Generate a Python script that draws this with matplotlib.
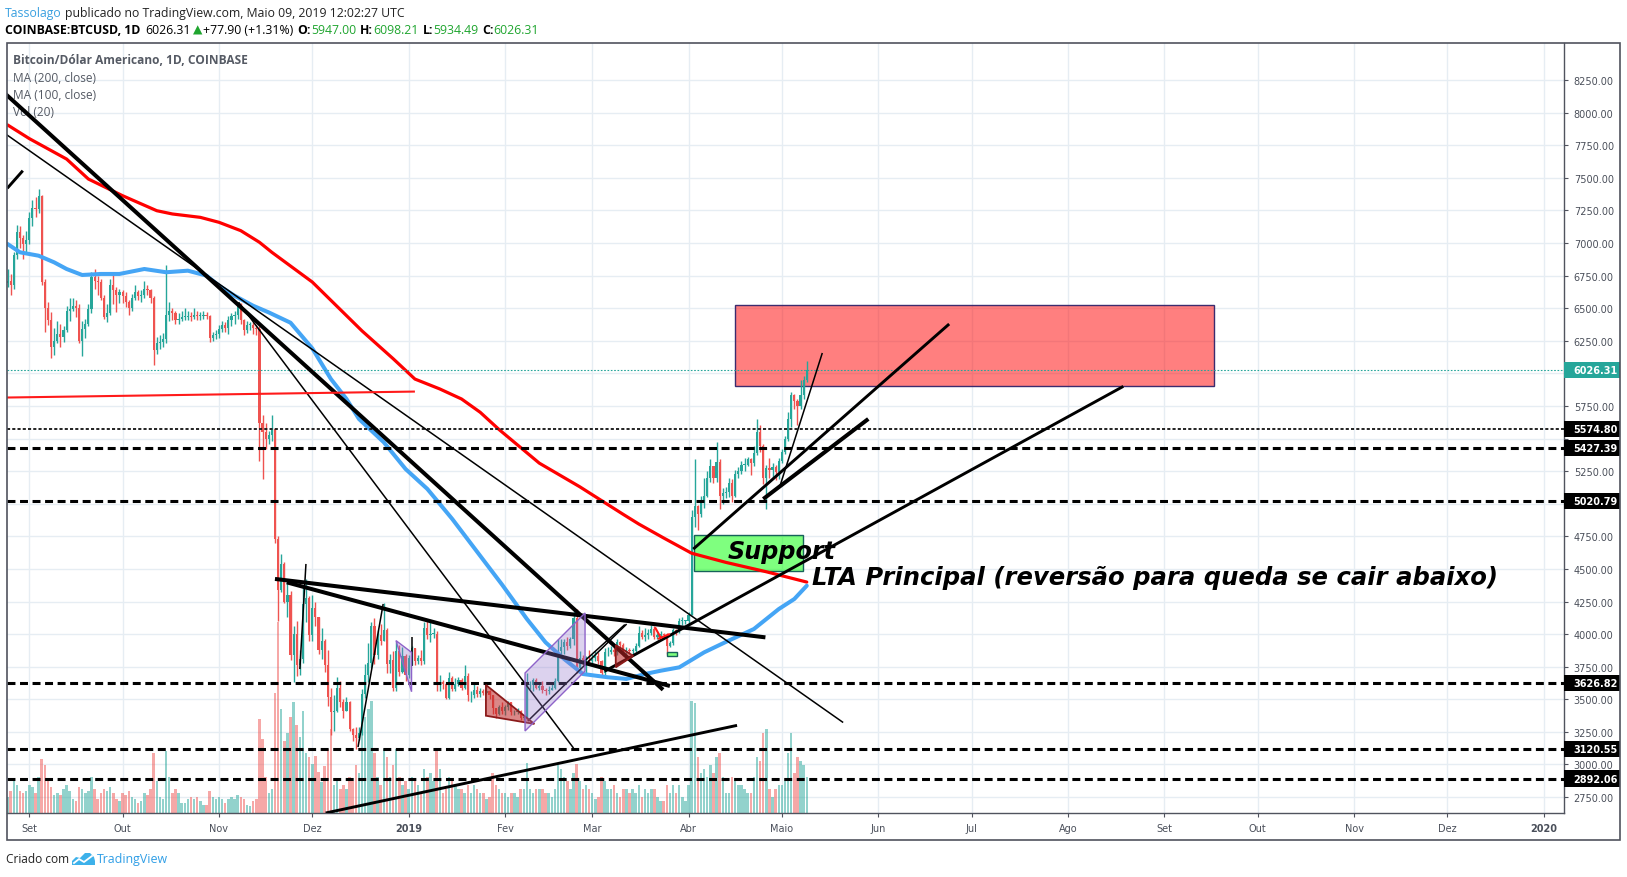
import numpy as np
import pandas as pd
import matplotlib
matplotlib.use("Agg")
import matplotlib.pyplot as plt
import matplotlib.dates as mdates
import matplotlib.transforms as mtransforms
from matplotlib.patches import Rectangle, Polygon

W, H = 1627, 878
UP, DOWN = "#26a69a", "#ef5350"
AXC = "#50535e"

# ---- COINBASE:BTCUSD daily candles, 25 Aug 2018 .. 9 May 2019 ----
first_open = 6690
closes = [
    6710, 6680, 6910, 7080, 7040, 6990, 7020,
    7190, 7270, 7260, 7360, 6700, 6500, 6410, 6200, 6250, 6300, 6280, 6330, 6480, 6490, 6520,
    6500, 6250, 6340, 6380, 6490, 6740, 6710, 6700, 6580, 6430, 6460, 6680, 6640, 6600, 6620,
    6590, 6550, 6500, 6580, 6620, 6590, 6600, 6650, 6640, 6580, 6180, 6230, 6240, 6260, 6450,
    6480, 6460, 6410, 6420, 6430, 6430, 6440, 6430, 6450, 6440, 6440, 6450, 6440, 6270, 6290, 6300,
    6340, 6370, 6350, 6410, 6440, 6450, 6520, 6410, 6330, 6370, 6370, 6350, 6340, 5620, 5550,
    5500, 5530, 5570, 4730, 4340, 4540, 4250, 4300, 3840, 4000, 3760, 3810, 4230, 4280, 3990,
    4200, 4130, 3880, 3950, 3760, 3520, 3400, 3410, 3590, 3480, 3410, 3480, 3270, 3230, 3200,
    3240, 3540, 3690, 3780, 4060, 3840, 3990, 3950, 4030, 3770, 3800, 3590, 3870, 3710, 3830, 3690,
    3820, 3890, 3790, 3820, 3790, 4050, 3990, 4000, 4000, 3620, 3630, 3620, 3510, 3660, 3580,
    3620, 3650, 3590, 3680, 3530, 3530, 3570, 3540, 3560, 3550, 3560, 3530, 3430, 3390, 3440, 3410,
    3440, 3480, 3400, 3400, 3410, 3360, 3360, 3610, 3610, 3650, 3590, 3600, 3570, 3560,
    3570, 3590, 3640, 3870, 3900, 3940, 3910, 3960, 4120, 3740, 3820, 3800, 3800, 3790,
    3820, 3830, 3790, 3700, 3860, 3860, 3880, 3860, 3940, 3920, 3870, 3880, 3870, 3870, 3910,
    4010, 3980, 3990, 4010, 4040, 3980, 3990, 4000, 3990, 3910, 3930, 4030, 4020, 4100, 4100, 4100,
    4150, 4900, 4980, 4920, 5030, 5060, 5200, 5290, 5200, 5320, 5060, 5080, 5090, 5160, 5060,
    5230, 5250, 5300, 5300, 5340, 5310, 5390, 5550, 5440, 5200, 5270, 5260, 5280, 5240, 5330,
    5400, 5500, 5650, 5830, 5790, 5750, 5830, 5947, 6026.31,
]
highs = [
    6800, 6760, 6930, 7140, 7130, 7060, 7090,
    7240, 7330, 7350, 7410, 7370, 6720, 6550, 6470, 6350, 6400, 6380, 6360, 6520, 6580, 6580,
    6560, 6530, 6400, 6420, 6530, 6780, 6800, 6750, 6720, 6600, 6530, 6720, 6780, 6660, 6650,
    6640, 6620, 6560, 6610, 6680, 6640, 6640, 6710, 6680, 6650, 6590, 6280, 6290, 6310, 6830,
    6550, 6500, 6480, 6460, 6480, 6500, 6480, 6470, 6500, 6480, 6470, 6480, 6470, 6450, 6320, 6330,
    6370, 6400, 6390, 6440, 6460, 6480, 6550, 6540, 6420, 6400, 6390, 6390, 6370, 6360, 5680,
    5620, 5560, 5680, 5570, 4750, 4614, 4550, 4400, 4330, 4060, 4100, 3880, 4360, 4420, 4290,
    4300, 4250, 4130, 4050, 3960, 3880, 3590, 3530, 3670, 3640, 3500, 3520, 3490, 3280, 3290,
    3290, 3580, 3770, 3930, 4090, 4120, 4030, 4080, 4240, 4050, 3850, 3870, 3940, 3920, 3900, 3850,
    3840, 3910, 3890, 3840, 3880, 4090, 4100, 4110, 4050, 4020, 3690, 3650, 3630, 3710, 3680,
    3660, 3670, 3660, 3760, 3700, 3560, 3620, 3600, 3590, 3580, 3600, 3570, 3530, 3430, 3460, 3480,
    3460, 3490, 3480, 3420, 3430, 3420, 3380, 3700, 3640, 3660, 3660, 3620, 3640, 3590,
    3600, 3620, 3660, 3960, 3960, 3960, 3980, 3980, 4180, 4190, 3870, 3840, 3830, 3880,
    3850, 3870, 3860, 3800, 3890, 3900, 3910, 3920, 3960, 3950, 3930, 3900, 3890, 3890, 3930,
    4060, 4030, 4050, 4040, 4070, 4060, 4010, 4020, 4010, 4010, 3950, 4050, 4040, 4120, 4130, 4110,
    4170, 4950, 5340, 4990, 5060, 5200, 5250, 5340, 5290, 5470, 5340, 5120, 5130, 5200, 5190,
    5260, 5280, 5330, 5350, 5360, 5350, 5440, 5650, 5600, 5460, 5300, 5350, 5310, 5300, 5350,
    5420, 5520, 5700, 5860, 5840, 5800, 5950, 5980, 6098.21,
]
lows = [
    6660, 6600, 6650, 6880, 6960, 6880, 6920,
    6990, 7130, 7200, 7230, 6680, 6320, 6370, 6120, 6140, 6230, 6200, 6240, 6320, 6400, 6480,
    6430, 6230, 6130, 6270, 6360, 6460, 6650, 6600, 6560, 6420, 6390, 6450, 6530, 6470, 6540,
    6540, 6510, 6450, 6480, 6560, 6560, 6550, 6580, 6600, 6540, 6060, 6150, 6190, 6200, 6230,
    6400, 6410, 6380, 6380, 6400, 6410, 6410, 6400, 6420, 6410, 6410, 6420, 6420, 6240, 6250, 6260,
    6270, 6320, 6320, 6300, 6360, 6380, 6420, 6380, 6290, 6310, 6330, 6300, 6290, 5330, 5190,
    5420, 5460, 5480, 4700, 4100, 4320, 4240, 4130, 3800, 3630, 3680, 3690, 3780, 4090, 3950,
    3950, 4060, 3850, 3810, 3710, 3450, 3230, 3260, 3400, 3440, 3360, 3410, 3260, 3180, 3120,
    3190, 3230, 3510, 3630, 3740, 3770, 3810, 3920, 3950, 3700, 3700, 3560, 3560, 3680, 3700, 3640,
    3660, 3760, 3760, 3770, 3760, 3770, 3960, 3940, 3970, 3560, 3560, 3580, 3500, 3500, 3560,
    3560, 3600, 3570, 3580, 3490, 3480, 3510, 3520, 3520, 3530, 3540, 3500, 3390, 3360, 3380, 3390,
    3380, 3420, 3380, 3380, 3390, 3340, 3340, 3350, 3580, 3560, 3580, 3570, 3550, 3530,
    3540, 3570, 3580, 3630, 3850, 3850, 3880, 3890, 3920, 3700, 3710, 3760, 3690, 3760,
    3780, 3790, 3770, 3680, 3690, 3830, 3850, 3830, 3840, 3890, 3830, 3840, 3850, 3850, 3860,
    3900, 3960, 3950, 3960, 3990, 3960, 3960, 3970, 3960, 3850, 3900, 3920, 3990, 4010, 4070, 4080,
    4080, 4150, 4820, 4800, 4900, 4970, 5050, 5170, 5160, 5170, 4960, 5000, 5040, 5050, 5010,
    5050, 5200, 5230, 5250, 5290, 5220, 5290, 5370, 5400, 5150, 4960, 5200, 5200, 5180, 5190,
    5310, 5380, 5480, 5590, 5730, 5600, 5730, 5800, 5934.49,
]
# volume, thousand BTC
volumes = [
    4.0, 5.5, 8.5, 7.0, 5.5, 5.0, 5.5,
    7.0, 6.5, 5.0, 9.0, 13.5, 12.0, 8.0, 6.5, 4.5, 5.0, 4.5, 6.0, 7.0, 5.5, 3.5,
    3.0, 6.5, 6.0, 5.0, 5.5, 9.0, 6.0, 3.5, 5.0, 6.0, 5.5, 6.5, 5.0, 3.5, 3.0,
    5.0, 4.5, 5.5, 4.0, 3.5, 2.5, 3.0, 5.0, 4.5, 6.0, 15.0, 8.0, 4.0, 3.5, 15.5,
    9.0, 5.0, 6.0, 5.0, 2.5, 2.5, 3.5, 4.0, 3.5, 4.0, 3.0, 2.0, 2.0, 5.5, 4.0, 3.5,
    4.0, 3.5, 2.5, 3.5, 4.0, 3.5, 4.5, 4.0, 3.5, 2.0, 1.8, 3.0, 3.5, 23.5, 18.5,
    9.0, 5.0, 6.0, 30.0, 47.8, 26.0, 18.0, 20.0, 24.0, 27.8, 22.0, 19.0, 25.5, 15.0, 14.0,
    12.3, 14.3, 10.2, 7.7, 11.8, 16.0, 21.0, 7.0, 8.0, 6.0, 7.0, 6.0, 9.0, 8.0, 12.0,
    10.0, 22.0, 24.0, 26.0, 28.0, 15.0, 9.0, 7.0, 16.0, 14.0, 9.0, 12.0, 16.0, 9.0, 7.0, 8.0,
    6, 9, 8, 7, 5, 11, 9, 10, 8, 16, 11, 5, 6, 9, 8,
    7, 6, 6, 5, 7, 5, 7, 6, 5, 5, 3.5, 4, 10, 7, 6, 5,
    5, 4, 5, 5, 4, 6, 6, 12.6, 6, 5, 6, 6, 6, 5,
    5, 4, 6, 12, 11, 9, 8, 6, 10, 12.2, 8, 6, 7, 6,
    5, 3.5, 4, 9, 8, 6, 6, 7, 5, 4, 6, 6, 5, 6, 5,
    7, 4, 6, 5, 6, 6, 4, 3, 3, 7, 5, 7, 5, 7, 4, 3,
    7, 28, 27.5, 14, 10, 11, 9, 12, 10, 14, 15, 9, 5, 5, 9,
    8, 7, 7, 6, 5, 5, 9, 14, 13, 20, 21, 6, 4, 6, 7,
    7, 8, 15, 20, 10, 14, 13, 12, 9,
]

# moving averages
ma200_dates = ["2018-08-25", "2018-09-01", "2018-09-13", "2018-09-20", "2018-10-01", "2018-10-12",
               "2018-10-17", "2018-10-26", "2018-11-01", "2018-11-08", "2018-11-14", "2018-11-18",
               "2018-12-01", "2018-12-17", "2018-12-27", "2019-01-03", "2019-01-11", "2019-01-18",
               "2019-01-24", "2019-01-30", "2019-02-12", "2019-02-25", "2019-03-11", "2019-03-16",
               "2019-03-24", "2019-04-02", "2019-04-13", "2019-04-26", "2019-05-09"]
ma200_vals = [7905, 7800, 7643, 7490, 7362, 7247, 7222, 7196, 7158, 7094, 7005, 6928, 6700, 6325,
              6112, 5956, 5880, 5803, 5701, 5570, 5311, 5130, 4918, 4844, 4737, 4620, 4550, 4478, 4399]
ma100_dates = ["2018-08-25", "2018-08-29", "2018-09-04", "2018-09-09", "2018-09-13", "2018-09-18",
               "2018-09-24", "2018-09-30", "2018-10-08", "2018-10-15", "2018-10-22", "2018-10-28",
               "2018-11-01", "2018-11-06", "2018-11-12", "2018-11-17", "2018-11-24", "2018-12-01",
               "2018-12-07", "2018-12-12", "2018-12-16", "2018-12-24", "2018-12-31", "2019-01-07",
               "2019-01-15", "2019-01-24", "2019-01-31", "2019-02-08", "2019-02-14", "2019-02-20",
               "2019-02-26", "2019-03-06", "2019-03-12", "2019-03-18", "2019-03-23", "2019-03-29",
               "2019-04-06", "2019-04-13", "2019-04-22", "2019-04-30", "2019-05-05", "2019-05-09"]
ma100_vals = [6992, 6928, 6902, 6851, 6800, 6754, 6762, 6762, 6800, 6775, 6787, 6749, 6672, 6595,
              6518, 6467, 6388, 6191, 5956, 5803, 5650, 5471, 5266, 5113, 4883, 4600, 4380, 4116,
              3937, 3809, 3694, 3669, 3656, 3694, 3719, 3745, 3860, 3940, 4039, 4192, 4269, 4371]

# horizontal levels drawn by the author
dashed_levels = [5427.39, 5020.79, 3626.82, 3120.55, 2892.06]
dotted_level = 5574.80
last_price = 6026.31

# trend lines: start date, start price, end date, end price
thick_lines = [
    ("2018-08-24", 8150, "2019-03-23 19:00", 3573),
    ("2018-11-19", 4423, "2019-04-25 17:00", 3975),
    ("2018-11-22 19:00", 4397, "2019-03-26", 3602),
    ("2019-04-25", 5036, "2019-05-28 19:00", 5650),
]
medium_lines = [
    ("2019-03-05", 3715, "2019-08-18 19:00", 5900),
    ("2019-04-02 12:00", 4652, "2019-06-23 19:00", 6378),
    ("2018-12-05 07:00", 2628, "2019-04-16 14:00", 3300),
    ("2018-08-24 22:00", 7419, "2018-08-29 22:00", 7554),
]
thin_lines = [
    ("2018-08-24", 7842, "2019-05-20 17:00", 3322),
    ("2018-11-07 07:00", 6545, "2019-02-23", 3126),
    ("2018-11-27", 3732, "2018-11-28 23:00", 4538),
    ("2018-12-15 17:00", 3134, "2018-12-23 19:00", 4231),
    ("2019-04-30 10:00", 5138, "2019-05-14", 6156),
    ("2019-02-08 07:00", 3333, "2019-03-12 02:00", 4077),
    ("2019-02-26 02:00", 3784, "2019-03-11 12:00", 4073),
    ("2019-01-02", 3977, "2019-01-02", 3755),
]
red_lines = [
    ("2018-08-24", 5814, "2019-01-03", 5860),
    ("2019-03-21 05:00", 4052, "2019-03-23 07:00", 3963),
    ("2019-03-22 02:00", 3963, "2019-03-26", 4001),
]
red_triangles = [
    [("2019-01-25 20:00", 3610), ("2019-01-25 20:00", 3374), ("2019-02-10 10:00", 3311)],
    [("2019-03-08 14:00", 3916), ("2019-03-08 14:00", 3745), ("2019-03-14 05:00", 3834)],
]
purple_shapes = [
    [("2019-02-07 10:00", 3702), ("2019-02-26 17:00", 4162), ("2019-02-26 17:00", 3717), ("2019-02-07 10:00", 3257)],
    [("2018-12-27 22:00", 3950), ("2019-01-01 22:00", 3558), ("2019-01-01 22:00", 3860)],
]
resistance_box = ("2019-04-16", "2019-09-16 22:00", 5900, 6524)
support_box = ("2019-04-02 17:00", "2019-05-07 19:00", 4482, 4762)
marker_box = ("2019-03-25", "2019-03-28 05:00", 3830, 3860)

price_ticks = np.arange(2750, 8251, 250)
hidden_ticks = (6000, 5500, 5000)   # covered by the level tags
month_ticks = pd.date_range("2018-09-01", "2020-01-01", freq="MS")
month_labels = ["Set", "Out", "Nov", "Dez", "2019", "Fev", "Mar", "Abr", "Maio", "Jun",
                "Jul", "Ago", "Set", "Out", "Nov", "Dez", "2020"]


def dn(s):
    return mdates.date2num(pd.Timestamp(s))


def fx(px):
    return px / W


def fy(py):
    return 1 - py / H


dates = pd.date_range("2018-08-25", periods=len(closes), freq="D")
x = mdates.date2num(dates)
o = np.array([first_open] + closes[:-1], dtype=float)   # 24/7 market: open = prior close
c = np.array(closes, dtype=float)
hi = np.array(highs, dtype=float)
lo = np.array(lows, dtype=float)
up = c >= o
cols = np.where(up, UP, DOWN)

x0 = dn("2018-09-01") - 7.33
x1 = dn("2018-09-01") + 493.5
ylo, yhi = 2628, 8537

fig = plt.figure(figsize=(W / 100, H / 100), dpi=100)
rect = [fx(6.5), fy(814), fx(1564) - fx(6.5), fy(43.5) - fy(814)]
ax_bg = fig.add_axes(rect)
ax_vol = fig.add_axes(rect)
ax = fig.add_axes(rect)
for a in (ax_bg, ax_vol, ax):
    a.set_xlim(x0, x1)

# grid
ax_bg.set_ylim(ylo, yhi)
ax_bg.set_xticks(mdates.date2num(month_ticks))
ax_bg.set_yticks(price_ticks)
ax_bg.grid(True, color="#e6edf3", lw=1)
ax_bg.tick_params(length=0, labelbottom=False, labelleft=False)
for s in ax_bg.spines.values():
    s.set_visible(False)

# volume
ax_vol.set_ylim(0, 192.6)
ax_vol.bar(x, volumes, width=0.8, color=cols, alpha=0.5, linewidth=0)
ax_vol.set_axis_off()

# price pane
ax.patch.set_alpha(0)
ax.set_ylim(ylo, yhi)

ax.add_patch(Rectangle((dn(resistance_box[0]), resistance_box[2]),
                       dn(resistance_box[1]) - dn(resistance_box[0]),
                       resistance_box[3] - resistance_box[2],
                       facecolor=(1, 0, 0, 0.5), edgecolor="#3b2b6e", lw=1.0, zorder=1))
ax.add_patch(Rectangle((dn(support_box[0]), support_box[2]),
                       dn(support_box[1]) - dn(support_box[0]),
                       support_box[3] - support_box[2],
                       facecolor=(0, 1, 0, 0.5), edgecolor="#17625a", lw=1.0, zorder=1))

ax.vlines(x, lo, hi, colors=cols, lw=1.0, zorder=2)
ax.bar(x, np.maximum(np.abs(c - o), 6), bottom=np.minimum(o, c), width=0.7,
       color=cols, linewidth=0, zorder=2)

ax.plot(mdates.date2num(pd.to_datetime(ma200_dates)), ma200_vals, color="#ff0000", lw=2.3,
        zorder=3, solid_capstyle="round")
ax.plot(mdates.date2num(pd.to_datetime(ma100_dates)), ma100_vals, color="#45a5f5", lw=2.9,
        zorder=3, solid_capstyle="round")

ax.axhline(last_price, color=UP, lw=0.8, ls=(0, (1.5, 1.5)), zorder=3.5)
for lv in dashed_levels:
    ax.axhline(lv, color="black", lw=2.2, ls=(0, (2.6, 1.5)), zorder=3.5)
ax.axhline(dotted_level, color="#222222", lw=1.4, ls=(0, (1.6, 1.1)), zorder=3.5)

for group, lw, colr in ((thick_lines, 2.9, "black"), (medium_lines, 2.1, "black"),
                        (thin_lines, 1.1, "black"), (red_lines, 1.5, "#ff1a1a")):
    for d1, p1, d2, p2 in group:
        ax.plot([dn(d1), dn(d2)], [p1, p2], color=colr, lw=lw, zorder=4,
                solid_capstyle="butt")

for tri in red_triangles:
    ax.add_patch(Polygon([(dn(d), p) for d, p in tri], closed=True,
                         facecolor=(0.75, 0.15, 0.15, 0.55), edgecolor="#8b1a1a",
                         lw=1.3, zorder=4))
for shp in purple_shapes:
    ax.add_patch(Polygon([(dn(d), p) for d, p in shp], closed=True,
                         facecolor=(0.58, 0.46, 0.80, 0.32), edgecolor="#8e63c9",
                         lw=1.0, zorder=4))
ax.add_patch(Rectangle((dn(marker_box[0]), marker_box[2]),
                       dn(marker_box[1]) - dn(marker_box[0]), marker_box[3] - marker_box[2],
                       facecolor="#7dff7d", edgecolor="#17625a", lw=1.0, zorder=4))

ax.text(dn("2019-04-13 17:00"), 4640, "Support", fontsize=17.2, fontweight="bold",
        fontstyle="italic", family="DejaVu Sans", va="center", ha="left", zorder=5)
ax.text(dn("2019-05-10 14:00"), 4438, "LTA Principal (reversão para queda se cair abaixo)",
        fontsize=17.5, fontweight="bold", fontstyle="italic", family="DejaVu Sans",
        va="center", ha="left", zorder=5)

# legend block (under the drawings)
leg = dict(transform=fig.transFigure, color="#555a64", fontsize=8.6, va="center",
           family="Open Sans", zorder=1.5)
ax.text(fx(13), fy(61), "Bitcoin/Dólar Americano, 1D, COINBASE", fontweight="bold", **leg)
ax.text(fx(13), fy(78.5), "MA (200, close)", **leg)
ax.text(fx(13), fy(95.5), "MA (100, close)", **leg)
ax.text(fx(13), fy(112), "Vol (20)", **leg)

# axes
for side in ("left", "top"):
    ax.spines[side].set_visible(False)
for side in ("right", "bottom"):
    ax.spines[side].set_color(AXC)
    ax.spines[side].set_linewidth(1.0)
ax.yaxis.tick_right()
ax.set_yticks(price_ticks)
ax.set_yticklabels(["" if v in hidden_ticks else f"{v:.2f}" for v in price_ticks])
ax.tick_params(axis="y", length=3, width=0.8, color=AXC, labelsize=7, labelcolor="#4a4f5a", pad=4)
ax.set_xticks(mdates.date2num(month_ticks))
ax.set_xticklabels(month_labels)
ax.tick_params(axis="x", length=3, width=0.8, color=AXC, labelsize=7, labelcolor="#4a4f5a", pad=4)
for t in ax.get_xticklabels():
    if t.get_text() in ("2019", "2020"):
        t.set_fontweight("bold")

# price tags on the scale
tr = mtransforms.blended_transform_factory(ax.transAxes, ax.transData)
box_w = (1620 - 1564) / (1564 - 6.5)
for lv, bg in [(last_price, UP), (dotted_level, "black")] + [(lv, "black") for lv in dashed_levels]:
    ax.add_patch(Rectangle((1.0, lv - 63), box_w, 126, transform=tr, facecolor=bg,
                           edgecolor="none", clip_on=False, zorder=10))
    ax.text(1.0058, lv, f"{lv:.2f}", transform=tr, color="white", fontsize=7,
            fontweight="bold", va="center", ha="left", clip_on=False, zorder=11)

# outer frame
fig.add_artist(Rectangle((fx(6.5), fy(841)), fx(1620) - fx(6.5), fy(43.5) - fy(841),
                         transform=fig.transFigure, fill=False, edgecolor=AXC, lw=1.2))

# header, pieces laid out one after the other
renderer = fig.canvas.get_renderer()
hf = ["Open Sans", "DejaVu Sans"]
GREEN = "#1fa52f"


def text_run(y, x_start, pieces, size):
    xpos = x_start
    for s, colr, wt, gap in pieces:
        t = fig.text(fx(xpos), fy(y), s, color=colr, fontweight=wt, fontsize=size,
                     family=hf, va="center")
        xpos = t.get_window_extent(renderer).x1 + gap


text_run(13.3, 5, [("Tassolago", "#3aa0e0", "normal", 3),
                   ("publicado no TradingView.com, Maio 09, 2019 12:02:27 UTC", "#222222", "normal", 0)],
         8.8)
text_run(30, 5, [("COINBASE:BTCUSD, 1D", "black", "bold", 5),
                 ("6026.31", "black", "normal", 2),
                 ("▲", GREEN, "normal", 1),
                 ("+77.90 (+1.31%)", "black", "normal", 4),
                 ("O:", "black", "bold", 0), ("5947.00", GREEN, "normal", 4),
                 ("H:", "black", "bold", 0), ("6098.21", GREEN, "normal", 4),
                 ("L:", "black", "bold", 0), ("5934.49", GREEN, "normal", 4),
                 ("C:", "black", "bold", 0), ("6026.31", GREEN, "normal", 0)],
         8.8)

# footer
fig.text(fx(6), fy(860), "Criado com", color="#222222", fontsize=8.6, family=hf, va="center")
logo = [(72, 866), (72, 862), (76, 858), (80, 859), (85, 854), (90, 854), (94, 858), (95, 862), (95, 866)]
fig.add_artist(Polygon([(fx(a), fy(b)) for a, b in logo], closed=True, transform=fig.transFigure,
                       facecolor="#3db1ea", edgecolor="none"))
zz = [(74, 864), (79, 860), (84, 863), (92, 857)]
fig.add_artist(plt.Line2D([fx(a) for a, b in zz], [fy(b) for a, b in zz], transform=fig.transFigure,
                          color="white", lw=1.3))
fig.text(fx(97), fy(860), "TradingView", color="#2f9ee6", fontsize=8.9, family=hf, va="center")

fig.savefig("out.png", dpi=100)
